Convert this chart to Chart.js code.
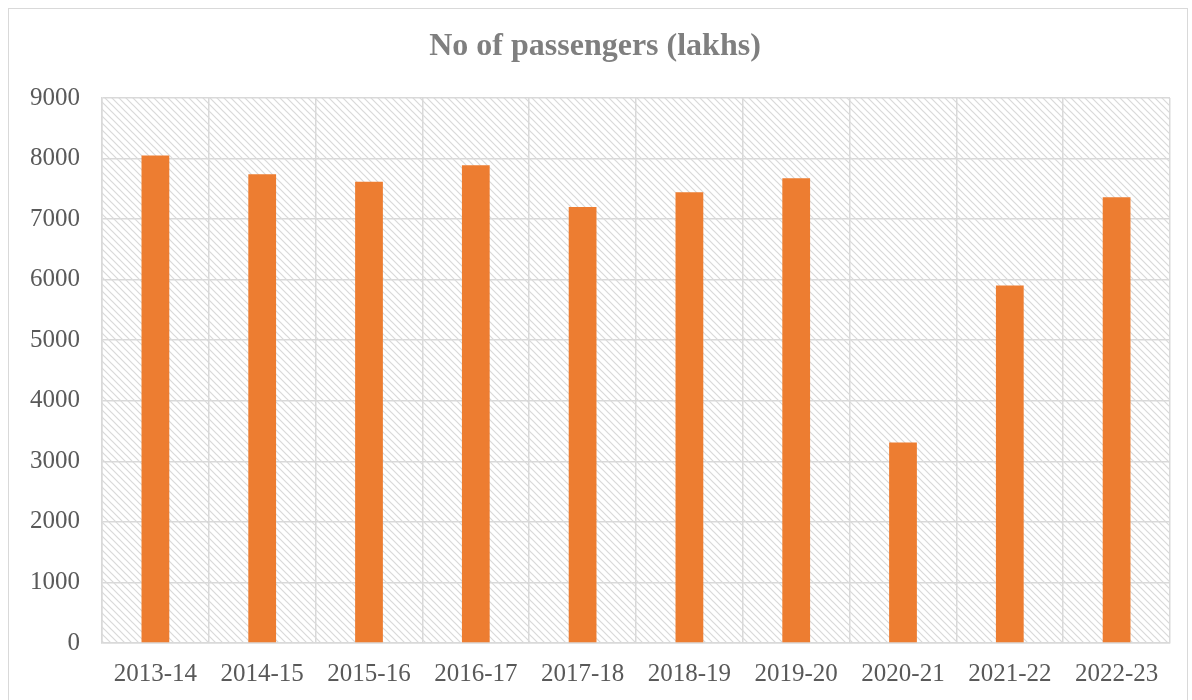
<!DOCTYPE html>
<html>
<head>
<meta charset="utf-8">
<script src="https://cdn.jsdelivr.net/npm/chart.js@4.4.0/dist/chart.umd.min.js"></script>
<style>
  body { margin: 0; background: #fff; }
  #wrap { position: relative; width: 1192px; height: 700px; }
  #frame { position: absolute; left: 8px; top: 8px; width: 1180px; height: 700px;
           border: 1.5px solid #d9d9d9; box-sizing: border-box; pointer-events: none; }
</style>
</head>
<body>
<div id="wrap">
  <canvas id="passenger-chart" width="1192" height="700"></canvas>
  <div id="frame"></div>
</div>
<script>
const years = ['2013-14', '2014-15', '2015-16', '2016-17', '2017-18',
               '2018-19', '2019-20', '2020-21', '2021-22', '2022-23'];
const passengers = [8050, 7740, 7615, 7890, 7200, 7445, 7675, 3310, 5905, 7360];
const yTicks = [0, 1000, 2000, 3000, 4000, 5000, 6000, 7000, 8000, 9000];

const serif = '"Liberation Serif", "Times New Roman", serif';

// diagonal hatch behind the plot area
function makeHatch() {
    const tile = document.createElement('canvas');
    tile.width = 7;
    tile.height = 7;
    const c = tile.getContext('2d');
    c.strokeStyle = '#d9d9d9';
    c.lineWidth = 1.2;
    c.beginPath();
    c.moveTo(-1, -1); c.lineTo(8, 8);
    c.moveTo(-1, 6); c.lineTo(1, 8);
    c.moveTo(6, -1); c.lineTo(8, 1);
    c.stroke();
    return tile;
}

const hatchPlugin = {
    id: 'hatch',
    beforeDraw(chart) {
        const {ctx, chartArea} = chart;
        ctx.save();
        ctx.fillStyle = ctx.createPattern(makeHatch(), 'repeat');
        ctx.fillRect(chartArea.left, chartArea.top,
                     chartArea.right - chartArea.left, chartArea.bottom - chartArea.top);
        ctx.restore();
    }
};

new Chart(document.getElementById('passenger-chart'), {
    type: 'bar',
    data: {
        labels: years,
        datasets: [{
            data: passengers,
            backgroundColor: '#ed7d31',
            barPercentage: 0.26,
            categoryPercentage: 1
        }]
    },
    options: {
        responsive: false,
        animation: false,
        layout: { padding: { left: 20, right: 22, top: 7, bottom: 11 } },
        plugins: {
            legend: { display: false },
            tooltip: { enabled: false },
            title: {
                display: true,
                text: 'No of passengers (lakhs)',
                color: '#7f7f7f',
                font: { family: serif, size: 32, weight: 'bold' },
                padding: { top: 21, bottom: 31.6 }
            }
        },
        scales: {
            x: {
                afterFit(scale) { scale.height = 46; },
                grid: { color: '#d9d9d9', lineWidth: 1.5, drawTicks: false },
                border: { color: '#d9d9d9', width: 1.5 },
                ticks: {
                    color: '#595959',
                    padding: 16,
                    maxRotation: 0,
                    autoSkip: false,
                    font: { family: serif, size: 25 }
                }
            },
            y: {
                min: 0,
                max: 9000,
                afterFit(scale) { scale.width = 82; },
                afterBuildTicks(scale) { scale.ticks = yTicks.map(v => ({value: v})); },
                grid: { color: '#d9d9d9', lineWidth: 1.5, drawTicks: false },
                border: { color: '#d9d9d9', width: 1.5 },
                ticks: {
                    color: '#595959',
                    padding: 22,
                    callback: v => String(v),
                    font: { family: serif, size: 25 }
                }
            }
        }
    },
    plugins: [hatchPlugin]
});
</script>
</body>
</html>
